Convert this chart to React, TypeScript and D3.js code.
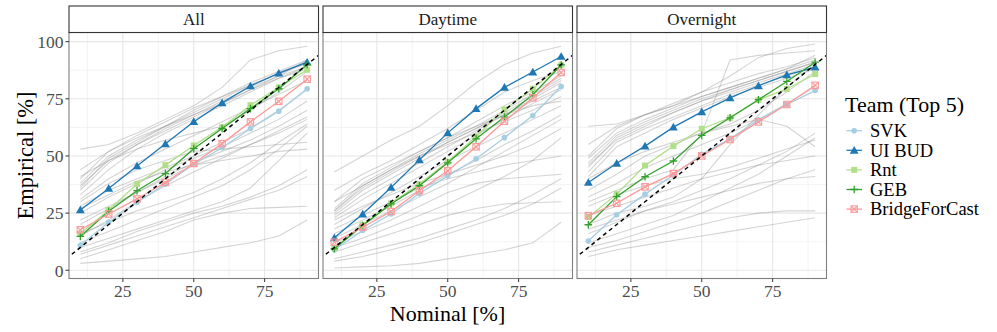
import React from 'react';
import * as d3 from 'd3';

const nominal = [10, 20, 30, 40, 50, 60, 70, 80, 90];
const facets = ['All', 'Daytime', 'Overnight'];
const teams = ['SVK', 'UI BUD', 'Rnt', 'GEB', 'BridgeForCast'];
const teamColors = ['#a6cee3', '#1f78b4', '#b2df8a', '#33a02c', '#fb9a99'];
const xTicks = [25, 50, 75];
const yTicks = [0, 25, 50, 75, 100];

// top 5 teams, one array per facet
const svkAll = [10.9, 21, 29.7, 37.7, 46.4, 53.6, 62, 69.6, 79.4];
const uiBudAll = [26.4, 35.8, 45.6, 55.3, 65, 73.2, 80.6, 86.2, 91];
const rntAll = [16, 26.4, 37.7, 46, 54.6, 62.6, 72.2, 80, 87.7];
const gebAll = [14.8, 25.8, 34.8, 42.3, 53.2, 62, 70.7, 79.4, 90];
const bfcAll = [17.7, 24.6, 31.2, 38.4, 46.7, 55.4, 64.9, 73.9, 83.6];

const svkDay = [9, 17.4, 24.6, 33.6, 41.3, 48.8, 58, 67.7, 80.4];
const uiBudDay = [14.2, 24.6, 36.2, 48.3, 60.1, 70.7, 80, 86.7, 93.5];
const rntDay = [9.9, 19.9, 29.3, 37.7, 47.5, 58.5, 70.3, 79.4, 89.8];
const gebDay = [9.4, 19.6, 29, 37, 47, 57.5, 67, 76.8, 89.8];
const bfcDay = [12.3, 18.8, 25.7, 34.8, 43.5, 54, 65.2, 75.4, 86.5];

const svkNight = [12.8, 24.3, 33.3, 41.7, 50.7, 57.5, 65.8, 72.5, 78.6];
const uiBudNight = [38.4, 46.8, 54.3, 62.6, 69.3, 75.4, 80.7, 85.5, 88.8];
const rntNight = [23.2, 33.3, 45.8, 54.3, 61.9, 66.7, 74.5, 79.3, 85.8];
const gebNight = [19.9, 32.2, 40.9, 47.8, 59, 66.7, 74.6, 82.6, 91];
const bfcNight = [23.9, 29.3, 36.5, 42.3, 50, 57.2, 64.9, 72.5, 80.9];

// the other teams, drawn in grey
const greyAll = [
  [38, 50, 57, 63, 69, 75, 81, 86, 90.5],
  [35, 47, 55, 62, 68, 74, 80, 85, 89],
  [33, 44, 53, 60, 66, 72, 78, 84, 89],
  [40, 52, 59, 65, 71, 76, 82, 87, 92],
  [36, 49, 56, 63, 70, 76, 81, 86, 91],
  [53, 55, 60, 66, 72, 80, 92, 96, 98],
  [44, 52, 58, 63, 68, 73, 79, 85, 92],
  [41, 48, 53, 57, 60, 63, 70, 78, 87],
  [28, 35, 40, 45, 50, 56, 62, 70, 79],
  [25, 32, 38, 44, 49, 54, 60, 66, 74],
  [22, 28, 34, 41, 47, 52, 57, 63, 70],
  [30, 38, 44, 48, 52, 53, 54, 55, 56],
  [27, 33, 39, 43, 46, 48, 50, 52, 53],
  [20, 27, 34, 40, 46, 50, 55, 60, 66],
  [15, 22, 30, 37, 43, 49, 55, 61, 67],
  [8, 12, 17, 21, 25, 28, 32, 37, 44],
  [7, 11, 15, 19, 23, 27, 31, 35, 41],
  [5, 9, 13, 17, 22, 25, 27, 27.5, 28],
  [3, 4, 5, 6, 8, 10, 12, 15, 22],
  [10, 14, 18, 22, 26, 30, 36, 48, 60],
  [12, 17, 22, 27, 32, 37, 44, 53, 63],
  [16, 21, 26, 30, 34, 40, 47, 56, 64],
  [31, 40, 47, 53, 59, 65, 71, 77, 83],
  [37, 48, 55, 61, 67, 73, 79, 84, 88],
];

const greyDay = [
  [43, 50, 57, 63, 72, 82, 90, 95, 98],
  [26, 37, 44, 51, 57, 63, 70, 77, 84],
  [25, 35, 42, 49, 56, 62, 68, 75, 82],
  [27, 38, 45, 52, 58, 65, 72, 78, 85],
  [24, 33, 40, 47, 54, 61, 68, 74, 80],
  [26, 36, 43, 50, 56, 62, 69, 76, 83],
  [35, 42, 48, 55, 62, 70, 78, 83, 87],
  [30, 37, 44, 50, 55, 60, 65, 70, 76],
  [20, 27, 34, 41, 48, 54, 60, 66, 72],
  [16, 22, 28, 35, 42, 48, 55, 61, 68],
  [22, 28, 33, 38, 42, 46, 50, 55, 62],
  [18, 24, 30, 36, 40, 43, 46, 48, 50],
  [12, 17, 22, 28, 34, 38, 40, 41, 42],
  [8, 12, 16, 20, 24, 27, 29, 29.5, 30],
  [5, 8, 11, 14, 18, 22, 27, 33, 40],
  [4, 6, 9, 12, 16, 20, 24, 29, 36],
  [1, 1.5, 2, 3, 5, 7, 9, 12, 21],
  [10, 14, 19, 24, 29, 35, 41, 48, 58],
  [14, 20, 26, 32, 38, 45, 52, 59, 66],
  [30, 40, 46, 52, 58, 63, 68, 72, 74],
  [23, 31, 38, 45, 52, 59, 66, 73, 79],
];

const greyNight = [
  [45, 58, 64, 69, 74, 78, 82, 86, 90],
  [47, 59, 65, 70, 75, 79, 83, 87, 91],
  [43, 56, 62, 67, 72, 77, 81, 85, 89],
  [49, 60, 66, 71, 76, 80, 84, 88, 92],
  [41, 54, 60, 66, 71, 76, 80, 84, 88],
  [50, 62, 68, 73, 78, 82, 86, 89, 93],
  [46, 57, 63, 69, 74, 79, 83, 87, 91],
  [63, 64, 68, 72, 78, 85, 93, 97, 99],
  [55, 63, 68, 72, 76, 80, 84, 88, 94],
  [35, 42, 50, 55, 60, 64, 70, 78, 87],
  [30, 35, 40, 44, 60, 92, 94, 95, 96],
  [20, 25, 28, 32, 40, 55, 68, 80, 90],
  [40, 47, 52, 56, 60, 63, 66, 63, 54],
  [28, 33, 37, 40, 42, 45, 49, 53, 57],
  [24, 28, 32, 36, 40, 43, 46, 48, 50],
  [16, 21, 26, 30, 35, 40, 46, 52, 60],
  [12, 16, 20, 24, 30, 36, 42, 50, 58],
  [10, 13, 17, 21, 25, 30, 35, 40, 44],
  [8, 11, 14, 17, 20, 23, 25, 26, 26],
  [6, 9, 11, 13, 15, 17, 19, 21, 23],
  [18, 22, 26, 29, 32, 35, 38, 40, 41],
  [32, 38, 45, 50, 55, 60, 66, 73, 80],
];

const teamSeries = [
  [svkAll, uiBudAll, rntAll, gebAll, bfcAll],
  [svkDay, uiBudDay, rntDay, gebDay, bfcDay],
  [svkNight, uiBudNight, rntNight, gebNight, bfcNight],
];
const greySeries = [greyAll, greyDay, greyNight];

const FONT = '"Liberation Serif", "DejaVu Serif", serif';

const Marker = ({ shape, x, y, color }: { shape: number; x: number; y: number; color: string }) => {
  if (shape === 0) return <circle cx={x} cy={y} r={2.8} fill={color} />;
  if (shape === 1) {
    const d = d3.symbol(d3.symbolTriangle, 34)() as string;
    return <path d={d} transform={`translate(${x},${y + 0.8})`} fill={color} />;
  }
  if (shape === 2) return <rect x={x - 3} y={y - 3} width={6} height={6} fill={color} />;
  if (shape === 3) {
    return (
      <path d={`M${x - 3.8},${y}H${x + 3.8}M${x},${y - 3.8}V${y + 3.8}`} stroke={color} strokeWidth={1.3} />
    );
  }
  return (
    <g stroke={color} strokeWidth={1.1} fill="none">
      <rect x={x - 3.2} y={y - 3.2} width={6.4} height={6.4} />
      <path d={`M${x - 3.2},${y - 3.2}L${x + 3.2},${y + 3.2}M${x - 3.2},${y + 3.2}L${x + 3.2},${y - 3.2}`} />
    </g>
  );
};

const App = () => {
  const width = 997;
  const height = 332;
  const panelW = 249.5;
  const gap = 4.5;
  const left = 69;
  const top = 32.5;
  const bottom = 278.5;
  const stripTop = 6;

  const x = d3.scaleLinear().domain([6, 94]).range([0, panelW]);
  const y = d3.scaleLinear().domain([-3.6, 104]).range([bottom, top]);
  const line = d3
    .line<number>()
    .x((_, i) => x(nominal[i]))
    .y((d) => y(d));

  const minorX = [12.5, 37.5, 62.5, 87.5];
  const minorY = [12.5, 37.5, 62.5, 87.5];

  return (
    <svg
      width={width}
      height={height}
      style={{ position: 'absolute', left: 0, top: 0, background: '#fff', fontFamily: FONT }}
    >
      {facets.map((facet, p) => {
        const x0 = left + p * (panelW + gap);
        return (
          <g key={facet} transform={`translate(${x0},0)`}>
            <rect x={0} y={top} width={panelW} height={bottom - top} fill="#fff" />
            <clipPath id={`clip${p}`}>
              <rect x={0} y={top} width={panelW} height={bottom - top} />
            </clipPath>
            {/* grid */}
            {minorX.map((v) => (
              <line key={`mx${v}`} x1={x(v)} x2={x(v)} y1={top} y2={bottom} stroke="#f0f0f0" strokeWidth={0.8} />
            ))}
            {minorY.map((v) => (
              <line key={`my${v}`} x1={0} x2={panelW} y1={y(v)} y2={y(v)} stroke="#f0f0f0" strokeWidth={0.8} />
            ))}
            {xTicks.map((v) => (
              <line key={`gx${v}`} x1={x(v)} x2={x(v)} y1={top} y2={bottom} stroke="#e6e6e6" strokeWidth={1.1} />
            ))}
            {yTicks.map((v) => (
              <line key={`gy${v}`} x1={0} x2={panelW} y1={y(v)} y2={y(v)} stroke="#e6e6e6" strokeWidth={1.1} />
            ))}
            <g clipPath={`url(#clip${p})`}>
              {greySeries[p].map((s, i) => (
                <path key={i} d={line(s) as string} fill="none" stroke="#808080" strokeOpacity={0.34} strokeWidth={1.1} />
              ))}
              {teamSeries[p].map((s, t) => (
                <g key={teams[t]}>
                  <path d={line(s) as string} fill="none" stroke={teamColors[t]} strokeWidth={1.3} />
                  {s.map((v, i) => (
                    <Marker key={i} shape={t} x={x(nominal[i])} y={y(v)} color={teamColors[t]} />
                  ))}
                </g>
              ))}
              <line
                x1={x(7)}
                y1={y(7)}
                x2={x(94)}
                y2={y(94)}
                stroke="#000"
                strokeWidth={1.5}
                strokeDasharray="4,3.5"
              />
            </g>
            <rect x={0} y={top} width={panelW} height={bottom - top} fill="none" stroke="#7f7f7f" strokeWidth={1.1} />
            {/* strip */}
            <rect x={0} y={stripTop} width={panelW} height={top - stripTop} fill="#fff" stroke="#333" strokeWidth={1.1} />
            <text x={panelW / 2} y={(stripTop + top) / 2} dy="0.36em" textAnchor="middle" fontSize={17} fill="#1a1a1a">
              {facet}
            </text>
            {/* x axis */}
            {xTicks.map((v) => (
              <g key={`tx${v}`}>
                <line x1={x(v)} x2={x(v)} y1={bottom} y2={bottom + 3.5} stroke="#333" strokeWidth={1} />
                <text x={x(v)} y={296.5} textAnchor="middle" fontSize={17.5} fill="#4d4d4d">
                  {v}
                </text>
              </g>
            ))}
            {p === 0 &&
              yTicks.map((v) => (
                <g key={`ty${v}`}>
                  <line x1={-3.5} x2={0} y1={y(v)} y2={y(v)} stroke="#333" strokeWidth={1} />
                  <text x={-5.5} y={y(v)} dy="0.36em" textAnchor="end" fontSize={17.5} fill="#4d4d4d">
                    {v}
                  </text>
                </g>
              ))}
          </g>
        );
      })}

      {/* axis titles */}
      <text x={447.5} y={320.5} textAnchor="middle" fontSize={22} fill="#000">
        Nominal [%]
      </text>
      <text transform={`translate(33,${(top + bottom) / 2}) rotate(-90)`} textAnchor="middle" fontSize={22.5} fill="#000">
        Empirical [%]
      </text>

      {/* legend */}
      <text x={845} y={111.5} fontSize={22} fill="#000">
        Team (Top 5)
      </text>
      {teams.map((team, t) => {
        const cy = 130.7 + t * 19.6;
        return (
          <g key={team}>
            <line x1={846.5} x2={862} y1={cy} y2={cy} stroke={teamColors[t]} strokeWidth={1.3} />
            <Marker shape={t} x={854.2} y={cy} color={teamColors[t]} />
            <text x={870} y={cy} dy="0.34em" fontSize={18.5} fill="#000">
              {team}
            </text>
          </g>
        );
      })}
    </svg>
  );
};

export default App;
